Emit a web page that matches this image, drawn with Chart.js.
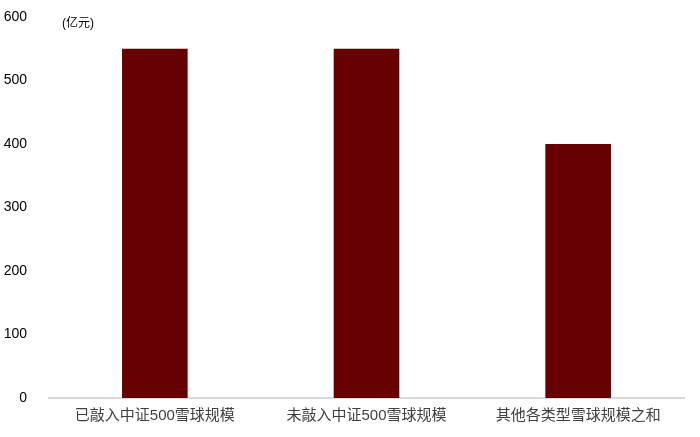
<!DOCTYPE html>
<html>
<head>
<meta charset="utf-8">
<script src="https://cdn.jsdelivr.net/npm/chart.js@4"></script>
<style>
  html, body { margin: 0; padding: 0; background: #fff; }
  #wrap { width: 700px; height: 437px; }
</style>
</head>
<body>
<div id="wrap"><canvas id="chart"></canvas></div>
<script>
// data
const categories = ['已敲入中证500雪球规模', '未敲入中证500雪球规模', '其他各类型雪球规模之和'];
const scaleValues = [550, 550, 400];
const unitLabel = '(亿元)';

const barColor = '#660000';
const fontFamily = 'Arial, "Liberation Sans", "Noto Sans CJK SC", sans-serif';

// draws the unit label at the top left of the plot
const unitPlugin = {
    id: 'unitLabel',
    afterDraw(chart) {
        const ctx = chart.ctx;
        const y = chart.scales.y;
        ctx.save();
        ctx.font = '12px ' + fontFamily;
        ctx.fillStyle = '#000';
        ctx.textBaseline = 'middle';
        ctx.textAlign = 'left';
        ctx.fillText(unitLabel, 62, y.getPixelForValue(600) + 7);
        ctx.restore();
    }
};

new Chart(document.getElementById('chart'), {
    type: 'bar',
    data: {
        labels: categories,
        datasets: [{
            data: scaleValues,
            backgroundColor: barColor,
            categoryPercentage: 1,
            barPercentage: 0.31
        }]
    },
    options: {
        responsive: true,
        maintainAspectRatio: false,
        animation: false,
        layout: { padding: { top: 17, right: 16, left: 0, bottom: 8 } },
        plugins: { legend: { display: false }, tooltip: { enabled: false } },
        scales: {
            x: {
                grid: { display: false },
                border: { display: true, color: '#d9d9d9', width: 2 },
                ticks: { color: '#404040', font: { size: 15, family: fontFamily }, padding: 1, maxRotation: 0 },
                afterFit(scale) { scale.height = 31; }
            },
            y: {
                min: 0,
                max: 600,
                ticks: { stepSize: 100, color: '#000', font: { size: 14, family: fontFamily }, padding: 14 },
                grid: { display: false },
                border: { display: false },
                afterFit(scale) { scale.width = 49; scale.paddingTop = 0; scale.paddingBottom = 0; }
            }
        }
    },
    plugins: [unitPlugin]
});
</script>
</body>
</html>
